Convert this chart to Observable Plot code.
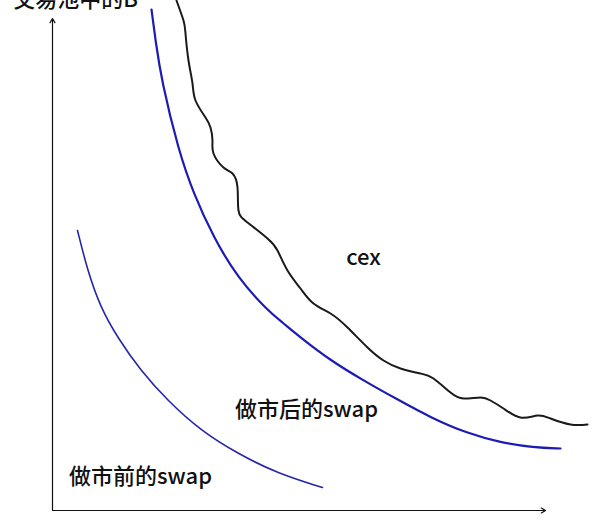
<!DOCTYPE html>
<html>
<head>
<meta charset="utf-8">
<script src="https://cdn.jsdelivr.net/npm/d3@7"></script>
<script src="https://cdn.jsdelivr.net/npm/@observablehq/plot@0.6"></script>
<style>
  html, body { margin: 0; padding: 0; background: #fff; }
  #chart svg { display: block; }
</style>
</head>
<body>
<div id="chart"></div>
<script>
// Units: amount of A (x) and amount of B (y) in the pool, arbitrary units
const cexX = [124,131,133,136,140,143,153,158,160,161,171,180,185,186,195,215,225,235,248,261,278,295,315,331,348,368,381,398,411,428,438,451,468,485,498,518,535];
const cexY = [510,490,477,450,427,410,393,383,370,357,343,337,323,300,288,272,260,240,222,207,197,183,163,150,142,137,132,118,112,113,110,102,93,95,92,86,86];

const afterX = [99,103,109,126,141,161,185,215,230,248,278,311,345,378,415,448,481,508];
const afterY = [501,470,430,360,317,273,233,200,188,173,150,130,111,93,77,68,63,62];

const beforeX = [25,35,48,65,88,115,148,185,225,270];
const beforeY = [280,240,203,173,140,110,80,57,37,23];

const labels = ["cex", "做市后的swap", "做市前的swap"];
const labelX = [311, 254, 88];
const labelY = [253, 101, 34];

const axisTitle = "交易池中的B";

const toPts = (xs, ys) => xs.map((x, i) => ({x, y: ys[i]}));
const cex = toPts(cexX, cexY);
const after = toPts(afterX, afterY);
const before = toPts(beforeX, beforeY);
const labelData = labels.map((t, i) => ({t, x: labelX[i], y: labelY[i]}));

const font = "'Noto Sans CJK SC', 'Noto Sans', sans-serif";

const chart = Plot.plot({
  width: 600,
  height: 518,
  marginTop: 20,
  marginBottom: 8,
  marginLeft: 52,
  marginRight: 55,
  x: {domain: [0, 493], axis: null},
  y: {domain: [0, 490], axis: null},
  style: {background: "#fff", fontFamily: font, overflow: "visible"},
  marks: [
    Plot.arrow([{x1: 0, y1: 0, x2: 493, y2: 0}], {x1: "x1", y1: "y1", x2: "x2", y2: "y2", stroke: "#111", strokeWidth: 1.2, headLength: 6, bend: 0, clip: false}),
    Plot.arrow([{x1: 0, y1: 0, x2: 0, y2: 492}], {x1: "x1", y1: "y1", x2: "x2", y2: "y2", stroke: "#111", strokeWidth: 1.2, headLength: 6, bend: 0, clip: false}),
    Plot.line(before, {x: "x", y: "y", stroke: "#2626a8", strokeWidth: 1.6, curve: "basis"}),
    Plot.line(after, {x: "x", y: "y", stroke: "#1c1cb4", strokeWidth: 2.2, curve: "basis"}),
    Plot.line(cex, {x: "x", y: "y", stroke: "#1a1a1a", strokeWidth: 2, curve: "natural"}),
    Plot.text(labelData, {x: "x", y: "y", text: "t", fontSize: 22, fontWeight: 500, fill: "#111", textAnchor: "middle", lineAnchor: "middle", fontFamily: font}),
    Plot.text([axisTitle], {x: [23], y: [511], text: d => d, fontSize: 22, fontWeight: 500, fill: "#111", textAnchor: "middle", lineAnchor: "middle", fontFamily: font})
  ]
});
document.getElementById("chart").appendChild(chart);
</script>
</body>
</html>
